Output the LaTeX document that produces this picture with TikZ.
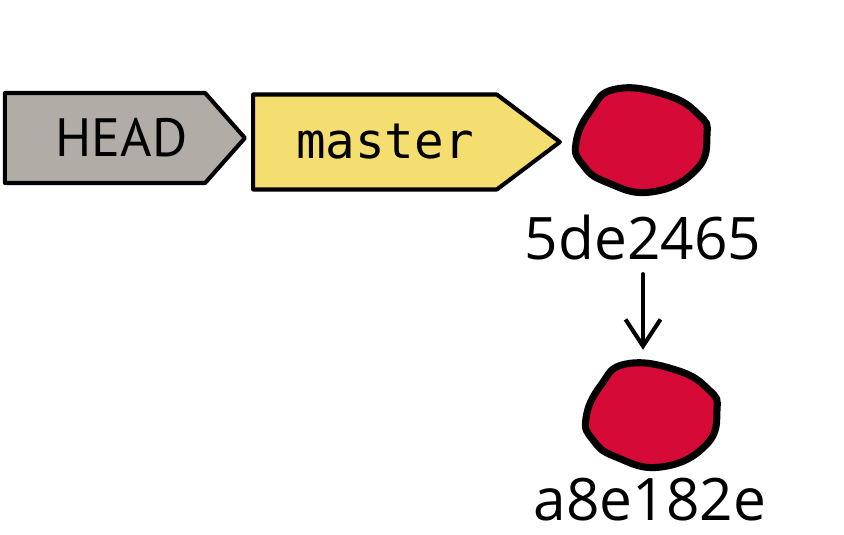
\documentclass[tikz,border=0pt]{standalone}
\usepackage{fontspec}
\setmainfont{Open Sans}
\newfontfamily\headfont{PT Sans}
\newfontfamily\branchfont{DejaVu Sans Mono}
\usetikzlibrary{shapes.symbols,arrows.meta,positioning}
\definecolor{headgray}{RGB}{178,172,166}
\definecolor{branchyellow}{RGB}{244,222,112}
\definecolor{commitred}{RGB}{213,10,55}
\tikzset{
    tag/.style = {signal, signal to=east, draw=black, line width=3.5pt, line join=round, inner sep=0pt},
    headtag/.style = {tag, fill=headgray, minimum width=7.2cm, minimum height=2.7cm,
        signal pointer angle=97, font=\headfont\fontsize{46}{50}\selectfont},
    branchtag/.style = {tag, fill=branchyellow, minimum width=9.2cm, minimum height=2.85cm,
        signal pointer angle=74, font=\branchfont\fontsize{42}{48}\selectfont},
    commit/.style = {circle, minimum size=3.9cm, inner sep=0pt},
    commitline/.style = {draw=black, fill=commitred, line width=6pt},
    hash/.style = {inner sep=0pt, font=\fontsize{50}{60}\selectfont},
    parent/.style = {-{Straight Barb[length=0.8cm, width=1.05cm]}, line width=3.5pt, line cap=round}
}
% hand drawn commit dot
\newcommand{\blob}[1]{%
  \draw[commitline, shift={#1}] plot[smooth cycle, tension=0.8] coordinates
    {(-65,3) (-50,-30) (-25,-51) (25,-45) (58,-25) (66,-5) (55,30) (10,52) (-35,42) (-58,25)};}

\begin{document}
\begin{tikzpicture}[x=0.03cm, y=-0.03cm]
  \useasboundingbox (0,0) rectangle (844,534);

  \node[headtag] (head) at (105,138) {\hspace{1cm}HEAD};

  \node[branchtag] (master) at (375,142) {\hspace{0.6cm}master};

  % commits
  \node[commit] (c1) at (641,140) {};
  \blob{(c1.center)}
  \node[hash] (h1) at (643,238) {5de2465};

  \node[commit] (c2) at (651,415) {};
  \blob{(c2.center)}
  \node[hash] (h2) at (650,500) {a8e182e};

  \draw[parent] ([yshift=-0.4cm]h1.south) -- (h1.south |- c2.north);
\end{tikzpicture}
\end{document}
